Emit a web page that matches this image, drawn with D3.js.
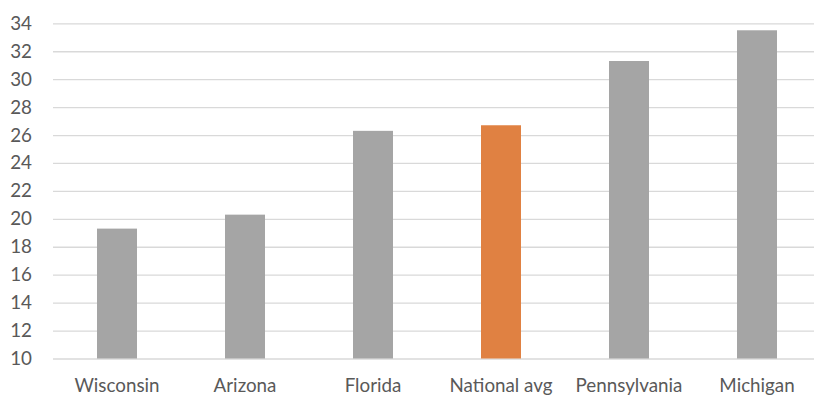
<!DOCTYPE html>
<html>
<head>
<meta charset="utf-8">
<script src="https://cdn.jsdelivr.net/npm/d3@7/dist/d3.min.js"></script>
<style>
  html, body { margin: 0; padding: 0; background: #ffffff; }
  svg { display: block; }
  .tick text { font-family: Lato, "Open Sans", sans-serif; fill: #595959; }
</style>
</head>
<body>
<svg id="chart" width="814" height="396"></svg>
<script>
// Categories and values
const categories = ["Wisconsin", "Arizona", "Florida", "National avg", "Pennsylvania", "Michigan"];
const values = [19.3, 20.3, 26.3, 26.7, 31.3, 33.5];
const highlight = ["National avg"];
const yTicks = [10, 12, 14, 16, 18, 20, 22, 24, 26, 28, 30, 32, 34];

const svg = d3.select("#chart");
const plotLeft = 53, plotRight = 821, plotTop = 23.3, plotBottom = 358.5;

const x = d3.scaleBand()
  .domain(categories)
  .range([plotLeft, plotRight])
  .paddingInner(0.6875)
  .paddingOuter(0.34375);

const y = d3.scaleLinear()
  .domain([10, 34])
  .range([plotBottom, plotTop]);

// Horizontal gridlines with tick labels
const yAxis = svg.append("g")
  .attr("transform", `translate(${plotLeft},0)`)
  .call(d3.axisLeft(y).tickValues(yTicks).tickSize(-(plotRight - plotLeft)).tickPadding(21).tickFormat(d3.format("d")));
yAxis.select(".domain").remove();
yAxis.selectAll(".tick line").attr("stroke", "#d9d9d9").attr("stroke-width", 1.3);
yAxis.selectAll(".tick text").attr("font-size", 18.8);

// Bars
svg.append("g").selectAll("rect")
  .data(categories)
  .join("rect")
  .attr("x", d => x(d))
  .attr("width", x.bandwidth())
  .attr("y", (d, i) => y(values[i]))
  .attr("height", (d, i) => y(10) - y(values[i]))
  .attr("fill", d => highlight.includes(d) ? "#e08142" : "#a5a5a5");

// Category labels
const xAxis = svg.append("g")
  .attr("transform", `translate(0,${plotBottom})`)
  .call(d3.axisBottom(x).tickSize(0).tickPadding(20));
xAxis.select(".domain").remove();
xAxis.selectAll(".tick text").attr("font-size", 18.8);
</script>
</body>
</html>
